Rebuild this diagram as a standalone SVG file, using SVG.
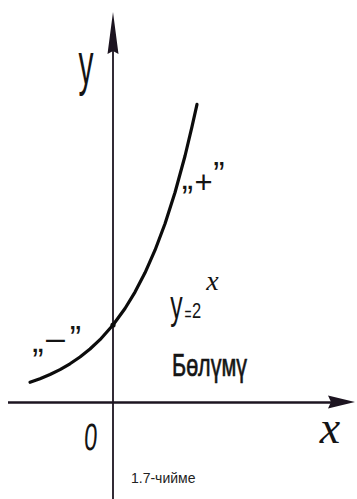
<svg xmlns="http://www.w3.org/2000/svg" width="357" height="499" viewBox="0 0 357 499">
  <style>
    .hand { font-family: "Liberation Sans", Arial, sans-serif; fill: #141414; }
    .script { font-family: "Liberation Serif", "Times New Roman", serif; font-style: italic; fill: #141414; }
    .axis { stroke: #1c1420; fill: none; }
    .head { fill: #1c1420; stroke: none; }
    .curve { stroke: #0c0c0c; stroke-width: 3.2; fill: none; stroke-linejoin: round; stroke-linecap: round; }
    .caption { font-family: "Liberation Sans", Arial, sans-serif; font-size: 14px; fill: #222; }
  </style>
  <rect width="357" height="499" fill="#ffffff"/>

  <g id="connectors">
    <g id="y-axis">
      <line class="axis" x1="113" y1="40" x2="113" y2="499" stroke-width="1.8"/>
      <path class="head" d="M113,12 L118.5,54 L113,51 L107.5,54 Z"/>
    </g>
    <g id="x-axis">
      <line class="axis" x1="8" y1="402.5" x2="335" y2="402.5" stroke-width="2.6"/>
      <path class="head" d="M355,402 L328,395.5 L331,402 L328,408.5 Z"/>
    </g>
  </g>

  <g id="curve">
    <path class="curve" d="M30,382.3 L40,378.7 L50,374.5 L60,369.6 L70,363.8 L80,357 L90,349 L100,339.7 L113,325 L125,308.5 L135,292.1 L145,272.8 L155,250.2 L165,223.7 L175,192.5 L185,156 L192,126.7 L197,104.3"/>
    <circle cx="113" cy="325" r="2.6" fill="#0c0c0c"/>
  </g>

  <g id="label-y">
    <text class="hand" font-size="60" text-anchor="middle" transform="translate(86,84) scale(0.5,1)">y</text>
  </g>

  <g id="label-origin">
    <text class="hand" font-size="38" text-anchor="middle" transform="translate(90,450) scale(0.62,1) skewX(-6)">0</text>
  </g>

  <g id="label-x">
    <text class="script" font-size="46" text-anchor="middle" x="330" y="443">x</text>
  </g>

  <g id="label-plus">
    <text class="hand" font-size="34" text-anchor="middle" x="187.5" y="189">„</text>
    <text class="hand" font-size="31" text-anchor="middle" x="203.5" y="192.5">+</text>
    <text class="hand" font-size="34" text-anchor="middle" x="219" y="185">”</text>
  </g>

  <g id="label-minus">
    <text class="hand" font-size="34" text-anchor="middle" x="38" y="352">„</text>
    <text class="hand" font-size="34" text-anchor="middle" x="55.5" y="348.5">–</text>
    <text class="hand" font-size="34" text-anchor="middle" x="75.5" y="348.5">”</text>
  </g>

  <g id="label-formula">
    <text class="hand" font-size="40" text-anchor="middle" transform="translate(176.5,319) scale(0.62,1)">y</text>
    <text class="hand" font-size="20" text-anchor="middle" transform="translate(188,321) scale(0.6,1)">=</text>
    <text class="hand" font-size="22" text-anchor="middle" transform="translate(196.5,318) scale(0.75,1)">2</text>
    <text class="script" font-size="28" text-anchor="middle" x="212.5" y="290">x</text>
  </g>

  <g id="label-region">
    <text class="hand" font-size="32" stroke="#141414" stroke-width="0.7" x="172" y="376" textLength="75" lengthAdjust="spacingAndGlyphs">Бөлүмү</text>
  </g>

  <g id="caption">
    <text class="caption" x="131" y="483">1.7-чийме</text>
  </g>
</svg>
